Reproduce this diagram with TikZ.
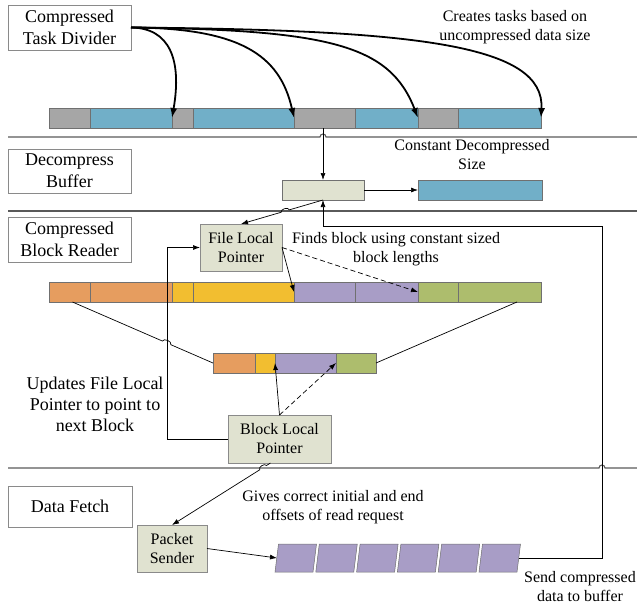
\documentclass[tikz,border=0pt]{standalone}
\usepackage{fontspec}
\setmainfont{Liberation Serif}
\usetikzlibrary{arrows.meta,calc}
\definecolor{sgray}{HTML}{A6A6A6}
\definecolor{sblue}{HTML}{71AFC8}
\definecolor{sorange}{HTML}{E69D5F}
\definecolor{syellow}{HTML}{F2BE30}
\definecolor{spurple}{HTML}{A89DC6}
\definecolor{sgreen}{HTML}{ADBD6D}
\definecolor{beige}{HTML}{E0E2D0}
\definecolor{boxgray}{HTML}{8A8A8A}
\definecolor{segline}{HTML}{707070}
\definecolor{sepline}{HTML}{5A5A5A}
\begin{document}
\begin{tikzpicture}[x=1pt,y=-1pt,
  lbl/.style={draw=boxgray,fill=white,line width=0.8pt,inner sep=0pt,outer sep=0pt,
    align=center,anchor=north west,font=\fontsize{18}{22}\selectfont},
  bbox/.style={draw=boxgray,fill=beige,line width=0.8pt,inner sep=0pt,outer sep=0pt,
    align=center,anchor=north west,font=\fontsize{16}{19}\selectfont},
  seg/.style 2 args={draw=segline,fill=#1,line width=0.6pt,minimum width=#2pt,
    minimum height=20pt,inner sep=0pt,outer sep=0pt,anchor=north west},
  note/.style={align=center,inner sep=0pt,font=\fontsize{16}{19}\selectfont},
  arr/.style={-{Latex[length=7pt,width=5pt]},line width=0.7pt},
  bigarr/.style={-{Latex[length=10pt,width=7pt]},line width=1.8pt},
  dasharr/.style={arr,dash pattern=on 5pt off 3pt},
  plain/.style={line width=0.7pt},
  sep/.style={draw=sepline,line width=1.1pt},
  para/.style={fill=spurple,draw=segline,line width=0.5pt}]
\useasboundingbox (0,0) rectangle (637,606);

% separators
\draw[sep] (8,137) -- (320,137) arc[start angle=180,end angle=360,radius=3] -- (637,137);
\draw[sep] (8,211) -- (637,211);
\draw[sep] (8,468) -- (599,468) arc[start angle=180,end angle=360,radius=3] -- (637,468);

% label boxes
\node[lbl,minimum width=123pt,minimum height=45pt] (cdt) at (8,5) {Compressed\\Task Divider};
\node[lbl,minimum width=123pt,minimum height=44pt] (dbl) at (8,149) {Decompress\\Buffer};
\node[lbl,minimum width=123pt,minimum height=45pt] (cbr) at (8,217) {Compressed\\Block Reader};
\node[lbl,minimum width=124pt,minimum height=41pt] (dfl) at (8,486) {Data Fetch};

% top bar
\node[seg={sgray}{41}]  (t1) at (49,108) {};
\node[seg={sblue}{82}]  (t2) at (90,108) {};
\node[seg={sgray}{21}]  (t3) at (172,108) {};
\node[seg={sblue}{101}] (t4) at (193,108) {};
\node[seg={sgray}{61}]  (t5) at (294,108) {};
\node[seg={sblue}{63}]  (t6) at (355,108) {};
\node[seg={sgray}{40}]  (t7) at (418,108) {};
\node[seg={sblue}{83}]  (t8) at (458,108) {};

% middle bar
\node[seg={sorange}{41}]  (m1) at (49,282) {};
\node[seg={sorange}{82}]  (m2) at (90,282) {};
\node[seg={syellow}{21}]  (m3) at (172,282) {};
\node[seg={syellow}{101}] (m4) at (193,282) {};
\node[seg={spurple}{61}]  (m5) at (294,282) {};
\node[seg={spurple}{63}]  (m6) at (355,282) {};
\node[seg={sgreen}{40}]   (m7) at (418,282) {};
\node[seg={sgreen}{83}]   (m8) at (458,282) {};

% small bar
\node[seg={sorange}{42}] (s1) at (213,353) {};
\node[seg={syellow}{20}] (s2) at (255,353) {};
\node[seg={spurple}{61}] (s3) at (275,353) {};
\node[seg={sgreen}{40}]  (s4) at (336,353) {};

% decompress buffer boxes
\node[seg={beige}{82}]  (db) at (282,180) {};
\node[seg={sblue}{124}] (dblue) at (418,180) {};

% pointer boxes
\node[bbox,minimum width=82pt,minimum height=47pt] (flp) at (200,224) {File Local\\Pointer};
\node[bbox,minimum width=103pt,minimum height=48pt] (blp) at (228,415) {Block Local\\Pointer};
\node[bbox,minimum width=70pt,minimum height=47pt] (ps) at (137,525) {Packet\\Sender};

% packets
\foreach \i in {0,...,5}{
  \pgfmathsetmacro{\bl}{275+40.8*\i}
  \draw[para] (\bl,572) -- (\bl+3.5,544) -- (\bl+41.5,544) -- (\bl+38,572) -- cycle;
}
\coordinate (p1w) at (277,558);
\coordinate (p6e) at (519,558);

% texts
\node[note] (creates) at (515,27.5) {Creates tasks based on\\uncompressed data size};
\node[note] (const) at (472,155) {Constant Decompressed\\Size};
\node[note] (finds) at (396,249) {Finds block using constant sized\\block lengths};
\node[note,font=\fontsize{18}{21}\selectfont] (upd) at (95,404) {Updates File Local\\Pointer to point to\\next Block};
\node[note] (gives) at (333,507.5) {Gives correct initial and end\\offsets of read request};
\node[note] (send) at (580,587) {Send compressed\\data to buffer};

% top curved arrows
\draw[bigarr] (cdt.east) .. controls (170,28) and (182,60) .. (t3.west);
\draw[bigarr] (cdt.east) .. controls (240,28) and (280,55) .. (t5.west);
\draw[bigarr] (cdt.east) .. controls (330,30) and (390,45) .. (t7.west);
\draw[bigarr] (cdt.east) .. controls (420,30) and (545,45) .. (t8.east);

% decompress buffer connectors
\draw[arr] (t5.south -| db.north) -- (db.north);
\draw[arr] (db.east) -- (dblue.west);
\draw[arr] (db.south) -- ($(db.south)!0.41!(flp.north)$) to[bend right=90] ($(db.south)!0.51!(flp.north)$) -- (flp.north);
\draw[arr] (p6e) -| ([xshift=83pt]p6e |- 0,226) -| (db.south);

% block reader connectors
\draw[arr] (flp.east) -- (m5.west);
\draw[dasharr] (flp.east) -- (m7.west);
\draw[arr] (blp.west) -- ([xshift=-61pt]blp.west) |- (flp.west);
\draw[plain] ($(m1.south)+(3,0)$) -- ($($(m1.south)+(3,0)$)!0.64!(s1.west)$) to[bend left=90] ($($(m1.south)+(3,0)$)!0.70!(s1.west)$) -- (s1.west);
\draw[plain] ($(m8.south east)+(-24,0)$) -- (s4.east);
\draw[arr] (blp.north) -- (s3.west);
\draw[dasharr] (blp.north) -- (s4.west);

% data fetch connectors
\draw[arr] ($(blp.south)+(-9,0)$) -- ($($(blp.south)+(-9,0)$)!0.04!(ps.north)$) to[bend right=90] ($($(blp.south)+(-9,0)$)!0.11!(ps.north)$) -- (ps.north);
\draw[arr] (ps.east) -- (p1w);
\end{tikzpicture}
\end{document}
